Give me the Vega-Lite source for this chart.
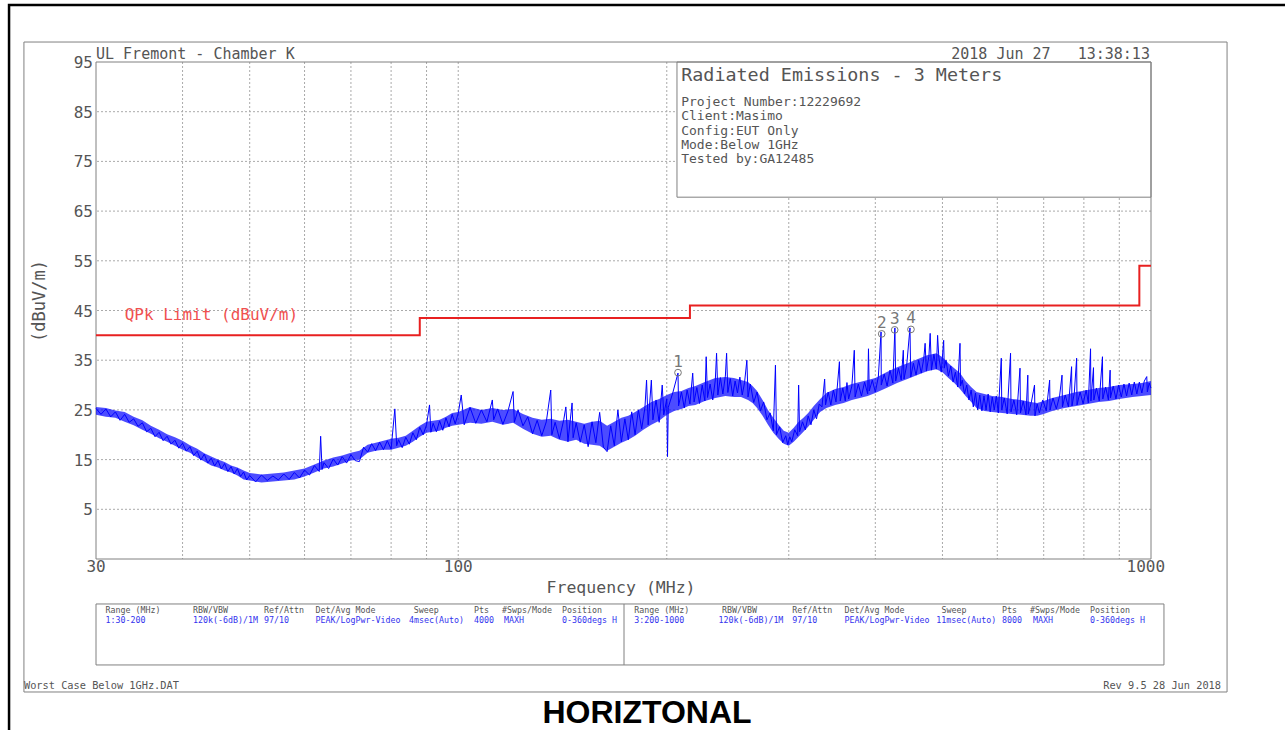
{
"$schema":"https://vega.github.io/schema/vega-lite/v6.json",
"width":1055,"height":497,
"autosize":{"type":"none"},
"padding":{"left":96,"top":62,"right":134,"bottom":171},
"background":"white",
"config":{"view":{"stroke":null}},
"layer":[
{"data":{"values":[{"f":40},{"f":50},{"f":60},{"f":70},{"f":80},{"f":90},{"f":100},{"f":200},{"f":300},{"f":400},{"f":500},{"f":600},{"f":700},{"f":800},{"f":900}]},
 "mark":{"type":"rule","color":"#aaa","strokeDash":[2,2],"strokeWidth":1},
 "encoding":{"x":{"field":"f","type":"quantitative","scale":{"type":"log","domain":[30,1000],"nice":false},"axis":null}}},
{"data":{"values":[{"v":5},{"v":15},{"v":25},{"v":35},{"v":45},{"v":55},{"v":65},{"v":75},{"v":85}]},
 "mark":{"type":"rule","color":"#aaa","strokeDash":[2,2],"strokeWidth":1},
 "encoding":{"y":{"field":"v","type":"quantitative","scale":{"domain":[-5,95],"nice":false,"zero":false},"axis":null}}},
{"data":{"values":[{"f1":206.9,"f2":1000,"v1":67.8,"v2":95}]},
 "mark":{"type":"rect","fill":"white","stroke":"#808080","strokeWidth":1},
 "encoding":{"x":{"field":"f1","type":"quantitative","scale":{"type":"log","domain":[30,1000],"nice":false},"axis":null},"x2":{"field":"f2"},
  "y":{"field":"v1","type":"quantitative","scale":{"domain":[-5,95],"nice":false,"zero":false},"axis":null},"y2":{"field":"v2"}}},
{"data":{"values":[{"f1":30,"f2":1000,"v1":-5,"v2":95},{"f1":23.61,"f2":1287.6,"v1":-31.76,"v2":99.02},{"f1":30,"f2":1044,"v1":-26.32,"v2":-14.05}]},
 "mark":{"type":"rect","fillOpacity":0,"stroke":"#808080","strokeWidth":1},
 "encoding":{"x":{"field":"f1","type":"quantitative","scale":{"type":"log","domain":[30,1000],"nice":false},"axis":null},"x2":{"field":"f2"},
  "y":{"field":"v1","type":"quantitative","scale":{"domain":[-5,95],"nice":false,"zero":false},"axis":null},"y2":{"field":"v2"}}},
{"data":{"values":[{"f1":22.47,"f2":1641,"v1":-41.4,"v2":106.47}]},
 "mark":{"type":"rect","fillOpacity":0,"stroke":"#000","strokeWidth":2.5},
 "encoding":{"x":{"field":"f1","type":"quantitative","scale":{"type":"log","domain":[30,1000],"nice":false},"axis":null},"x2":{"field":"f2"},
  "y":{"field":"v1","type":"quantitative","scale":{"domain":[-5,95],"nice":false,"zero":false},"axis":null},"y2":{"field":"v2"}}},
{"data":{"values":[{"f":173.5,"v1":-26.32,"v2":-14.05}]},
 "mark":{"type":"rule","color":"#808080","strokeWidth":1},
 "encoding":{"x":{"field":"f","type":"quantitative","scale":{"type":"log","domain":[30,1000],"nice":false},"axis":null},
  "y":{"field":"v1","type":"quantitative","scale":{"domain":[-5,95],"nice":false,"zero":false},"axis":null},"y2":{"field":"v2"}}},
{"data":{"values":[{"f":30,"v":40},{"f":88,"v":43.5},{"f":216,"v":46},{"f":962,"v":54},{"f":1000,"v":54}]},
 "mark":{"type":"line","color":"#e82020","strokeWidth":2,"interpolate":"step-after"},
 "encoding":{"x":{"field":"f","type":"quantitative","scale":{"type":"log","domain":[30,1000],"nice":false},"axis":null},
  "y":{"field":"v","type":"quantitative","scale":{"domain":[-5,95],"nice":false,"zero":false},"axis":null}}},
{"data":{"values":[
{"f":30,"lo":24.0,"hi":25.6},{"f":31,"lo":23.6,"hi":25.4},{"f":32,"lo":23.4,"hi":24.9},{"f":33,"lo":22.6,"hi":24.6},{"f":34,"lo":21.9,"hi":23.6},{"f":35,"lo":21.0,"hi":22.9},{"f":36,"lo":20.2,"hi":21.8},{"f":37,"lo":19.3,"hi":21.0},{"f":38,"lo":18.6,"hi":20.1},{"f":39,"lo":17.8,"hi":19.5},{"f":40,"lo":17.0,"hi":18.8},{"f":41,"lo":16.4,"hi":17.9},{"f":42,"lo":15.4,"hi":17.2},{"f":43,"lo":14.6,"hi":16.3},{"f":44,"lo":13.8,"hi":15.6},{"f":45,"lo":13.4,"hi":15.0},{"f":46,"lo":12.8,"hi":14.5},{"f":47,"lo":12.4,"hi":13.8},{"f":48,"lo":11.8,"hi":13.4},{"f":49,"lo":11.0,"hi":12.8},{"f":50,"lo":10.8,"hi":12.3},{"f":52,"lo":10.4,"hi":12.0},{"f":54,"lo":10.6,"hi":12.2},{"f":56,"lo":10.8,"hi":12.4},{"f":58,"lo":11.0,"hi":12.8},{"f":60,"lo":11.6,"hi":13.2},{"f":62,"lo":12.4,"hi":14.0},{"f":64,"lo":13.2,"hi":14.8},{"f":66,"lo":13.6,"hi":15.4},{"f":68,"lo":14.2,"hi":15.8},{"f":70,"lo":14.8,"hi":16.4},{"f":72,"lo":15.0,"hi":16.8},{"f":74,"lo":16.4,"hi":18.0},{"f":76,"lo":16.8,"hi":18.4},{"f":78,"lo":17.0,"hi":18.8},{"f":80,"lo":17.0,"hi":19.2},{"f":82,"lo":17.4,"hi":19.4},{"f":84,"lo":17.8,"hi":19.8},{"f":86,"lo":18.6,"hi":20.8},{"f":88,"lo":19.6,"hi":21.8},{"f":90,"lo":20.4,"hi":22.6},{"f":92,"lo":20.6,"hi":22.8},{"f":94,"lo":20.8,"hi":23.0},{"f":96,"lo":21.4,"hi":23.6},{"f":98,"lo":21.8,"hi":24.4},{"f":100,"lo":22.0,"hi":24.6},{"f":104,"lo":22.4,"hi":25.6},{"f":108,"lo":22.2,"hi":25.0},{"f":112,"lo":22.6,"hi":25.4},{"f":116,"lo":22.0,"hi":25.0},{"f":120,"lo":22.4,"hi":25.2},{"f":124,"lo":21.2,"hi":24.2},{"f":128,"lo":20.2,"hi":23.4},{"f":132,"lo":19.6,"hi":23.0},{"f":136,"lo":19.8,"hi":23.2},{"f":140,"lo":19.0,"hi":22.8},{"f":144,"lo":18.6,"hi":23.0},{"f":148,"lo":19.0,"hi":22.6},{"f":152,"lo":18.2,"hi":22.2},{"f":156,"lo":18.0,"hi":22.6},{"f":160,"lo":17.8,"hi":22.8},{"f":164,"lo":16.8,"hi":21.8},{"f":168,"lo":17.6,"hi":22.6},{"f":172,"lo":18.4,"hi":23.4},{"f":176,"lo":19.0,"hi":23.8},{"f":180,"lo":19.8,"hi":24.6},{"f":185,"lo":21.0,"hi":25.6},{"f":190,"lo":22.0,"hi":26.6},{"f":195,"lo":22.8,"hi":27.2},{"f":200,"lo":24.0,"hi":28.0},{"f":205,"lo":24.8,"hi":28.6},{"f":210,"lo":25.2,"hi":28.8},{"f":215,"lo":25.8,"hi":29.4},{"f":220,"lo":26.0,"hi":29.8},{"f":227,"lo":26.8,"hi":30.6},{"f":235,"lo":27.4,"hi":31.4},{"f":243,"lo":27.8,"hi":31.6},{"f":250,"lo":27.6,"hi":31.4},{"f":256,"lo":27.6,"hi":31.0},{"f":262,"lo":27.0,"hi":30.6},{"f":266,"lo":26.4,"hi":29.8},{"f":270,"lo":25.4,"hi":28.8},{"f":275,"lo":23.8,"hi":27.0},{"f":280,"lo":22.0,"hi":25.0},{"f":285,"lo":20.4,"hi":23.4},{"f":290,"lo":19.2,"hi":22.0},{"f":295,"lo":18.2,"hi":20.8},{"f":300,"lo":17.8,"hi":20.4},{"f":305,"lo":18.6,"hi":21.4},{"f":310,"lo":19.6,"hi":22.6},{"f":315,"lo":20.6,"hi":23.4},{"f":320,"lo":21.6,"hi":24.4},{"f":326,"lo":23.0,"hi":25.8},{"f":333,"lo":24.6,"hi":27.2},{"f":340,"lo":25.4,"hi":28.4},{"f":350,"lo":26.0,"hi":29.2},{"f":360,"lo":26.4,"hi":29.6},{"f":370,"lo":27.0,"hi":30.2},{"f":380,"lo":27.4,"hi":30.6},{"f":390,"lo":27.8,"hi":31.0},{"f":400,"lo":28.4,"hi":31.4},{"f":415,"lo":29.4,"hi":32.6},{"f":430,"lo":30.4,"hi":33.6},{"f":445,"lo":31.2,"hi":34.4},{"f":460,"lo":32.0,"hi":35.2},{"f":475,"lo":32.8,"hi":36.0},{"f":490,"lo":33.2,"hi":36.4},{"f":500,"lo":32.6,"hi":35.6},{"f":510,"lo":31.4,"hi":34.4},{"f":520,"lo":30.4,"hi":33.4},{"f":530,"lo":29.2,"hi":32.4},{"f":540,"lo":27.8,"hi":30.8},{"f":550,"lo":26.6,"hi":29.6},{"f":560,"lo":25.4,"hi":28.6},{"f":575,"lo":24.8,"hi":28.2},{"f":590,"lo":24.6,"hi":27.8},{"f":610,"lo":24.4,"hi":27.6},{"f":630,"lo":24.2,"hi":27.2},{"f":650,"lo":24.0,"hi":27.0},{"f":670,"lo":23.8,"hi":26.6},{"f":685,"lo":23.8,"hi":26.4},{"f":700,"lo":24.2,"hi":26.8},{"f":720,"lo":24.8,"hi":27.4},{"f":750,"lo":25.4,"hi":28.0},{"f":780,"lo":25.8,"hi":28.6},{"f":810,"lo":26.2,"hi":29.0},{"f":840,"lo":26.6,"hi":29.4},{"f":870,"lo":26.8,"hi":29.6},{"f":900,"lo":27.2,"hi":30.0},{"f":940,"lo":27.6,"hi":30.2},{"f":970,"lo":27.8,"hi":30.4},{"f":1000,"lo":28.0,"hi":30.8}
]},
 "mark":{"type":"area","color":"#0000ff","fillOpacity":0.7},
 "encoding":{"x":{"field":"f","type":"quantitative","scale":{"type":"log","domain":[30,1000],"nice":false},"axis":null},
  "y":{"field":"lo","type":"quantitative","scale":{"domain":[-5,95],"nice":false,"zero":false},"axis":null},"y2":{"field":"hi"}}},
{"data":{"values":[
{"f":30,"v":25.3},{"f":30.5,"v":24.1},{"f":31,"v":25.2},{"f":31.5,"v":23.6},{"f":32,"v":24.6},{"f":32.5,"v":22.9},{"f":33,"v":24.1},{"f":33.5,"v":22.5},{"f":34,"v":23.2},{"f":34.5,"v":21.7},{"f":35,"v":22.4},{"f":35.5,"v":20.6},{"f":36,"v":21.3},{"f":36.5,"v":19.6},{"f":37,"v":20.5},{"f":37.5,"v":18.8},{"f":38,"v":19.7},{"f":38.5,"v":18.1},{"f":39,"v":18.9},{"f":39.5,"v":17.3},{"f":40,"v":18.3},{"f":40.5,"v":16.7},{"f":41,"v":17.6},{"f":41.5,"v":15.8},{"f":42,"v":16.7},{"f":42.5,"v":14.9},{"f":43,"v":16.1},{"f":43.5,"v":14.3},{"f":44,"v":15.3},{"f":44.5,"v":13.7},{"f":45,"v":14.8},{"f":45.5,"v":13.1},{"f":46,"v":14.2},{"f":46.5,"v":12.6},{"f":47,"v":13.6},{"f":47.5,"v":12.1},{"f":48,"v":13.2},{"f":48.5,"v":11.6},{"f":49,"v":12.5},{"f":49.5,"v":10.9},{"f":50,"v":11.8},
{"f":51,"v":10.5},{"f":52,"v":11.9},{"f":53,"v":10.8},{"f":54,"v":11.7},{"f":55,"v":10.9},{"f":56,"v":12.1},{"f":57,"v":11.0},{"f":58,"v":12.4},{"f":59,"v":11.3},{"f":60,"v":12.9},{"f":61,"v":11.9},{"f":62,"v":13.8},{"f":63,"v":12.6},{"f":63.3,"v":19.7},{"f":63.6,"v":13.0},{"f":64,"v":14.4},{"f":65,"v":13.2},{"f":66,"v":15.1},{"f":67,"v":13.9},{"f":68,"v":15.6},{"f":69,"v":14.3},{"f":70,"v":16.0},{"f":71,"v":14.8},{"f":72,"v":14.6},{"f":73,"v":17.5},{"f":74,"v":16.5},{"f":75,"v":18.2},{"f":76,"v":16.8},{"f":77,"v":18.5},{"f":78,"v":17.0},{"f":79,"v":18.8},{"f":80,"v":17.1},{"f":81,"v":25.2},{"f":81.5,"v":17.8},{"f":82,"v":19.0},{"f":83,"v":17.4},{"f":84,"v":19.5},{"f":85,"v":18.1},{"f":86,"v":20.4},{"f":87,"v":19.0},{"f":88,"v":21.5},{"f":89,"v":20.0},{"f":90,"v":22.0},{"f":90.9,"v":26.0},{"f":91.3,"v":20.5},{"f":92,"v":22.3},{"f":93,"v":20.6},{"f":94,"v":22.8},{"f":95,"v":20.9},{"f":96,"v":23.4},{"f":97,"v":21.6},{"f":98,"v":24.1},{"f":99,"v":22.2},{"f":100,"v":24.3},
{"f":101,"v":28.0},{"f":102,"v":22.0},{"f":104,"v":25.5},{"f":106,"v":22.3},{"f":108,"v":25.0},{"f":110,"v":22.6},{"f":112,"v":27.0},{"f":112.5,"v":23.0},{"f":114,"v":25.2},{"f":116,"v":22.1},{"f":118,"v":24.8},{"f":120,"v":28.7},{"f":120.5,"v":22.5},{"f":122,"v":25.0},{"f":124,"v":21.8},{"f":126,"v":23.6},{"f":128,"v":20.2},{"f":130,"v":22.9},{"f":132,"v":19.8},{"f":134,"v":22.6},{"f":136,"v":29.0},{"f":136.5,"v":20.0},{"f":138,"v":22.5},{"f":140,"v":19.2},{"f":142,"v":23.0},{"f":143,"v":25.6},{"f":144,"v":18.6},{"f":146,"v":26.4},{"f":146.5,"v":19.4},{"f":148,"v":22.4},{"f":150,"v":18.5},{"f":152,"v":22.0},{"f":154,"v":17.6},{"f":156,"v":22.6},{"f":158,"v":18.4},{"f":160,"v":24.5},{"f":162,"v":17.5},{"f":164,"v":16.6},{"f":166,"v":21.8},{"f":168,"v":17.8},{"f":170,"v":25.0},{"f":172,"v":18.6},{"f":174,"v":23.2},{"f":176,"v":19.0},{"f":178,"v":24.6},{"f":180,"v":20.0},{"f":182,"v":25.0},{"f":184,"v":21.2},{"f":186,"v":25.5},{"f":187,"v":31.0},{"f":188,"v":22.0},{"f":190,"v":31.0},{"f":191,"v":23.0},{"f":193,"v":27.0},{"f":195,"v":22.5},{"f":197,"v":30.0},{"f":198,"v":24.0},{"f":200,"v":27.2},
{"f":200.5,"v":15.6},{"f":201,"v":25.5},{"f":204,"v":28.4},{"f":207.6,"v":32.4},{"f":208,"v":25.8},{"f":210,"v":28.6},{"f":212,"v":25.4},{"f":214,"v":29.0},{"f":216,"v":26.2},{"f":218,"v":32.4},{"f":219,"v":26.6},{"f":221,"v":29.5},{"f":223,"v":26.3},{"f":225,"v":30.0},{"f":227,"v":26.8},{"f":228,"v":35.7},{"f":229,"v":27.5},{"f":231,"v":30.2},{"f":233,"v":27.0},{"f":235,"v":31.0},{"f":236,"v":36.4},{"f":237,"v":28.0},{"f":239,"v":31.5},{"f":241,"v":28.2},{"f":243,"v":31.8},{"f":244,"v":36.4},{"f":245,"v":28.5},{"f":247,"v":31.3},{"f":249,"v":27.8},{"f":251,"v":30.8},{"f":253,"v":28.4},{"f":255,"v":31.6},{"f":257,"v":28.0},{"f":259,"v":30.5},{"f":261,"v":35.0},{"f":262,"v":27.6},{"f":264,"v":30.2},{"f":267,"v":26.5},{"f":270,"v":28.6},{"f":273,"v":24.8},{"f":276,"v":26.6},{"f":279,"v":23.0},{"f":282,"v":24.4},{"f":285,"v":20.8},{"f":287,"v":34.0},{"f":288,"v":20.0},{"f":291,"v":21.6},{"f":294,"v":18.4},{"f":297,"v":19.8},{"f":299,"v":18.0},{"f":301,"v":19.6},{"f":303,"v":18.6},{"f":306,"v":21.0},{"f":309,"v":19.8},{"f":310,"v":30.0},{"f":311,"v":20.6},{"f":314,"v":22.6},{"f":317,"v":21.0},{"f":320,"v":23.8},{"f":323,"v":22.0},{"f":326,"v":25.0},{"f":329,"v":23.2},{"f":332,"v":26.2},{"f":335,"v":25.6},{"f":338,"v":31.2},{"f":339,"v":26.0},{"f":342,"v":28.6},{"f":345,"v":26.0},{"f":348,"v":29.0},{"f":351,"v":26.6},{"f":355,"v":34.7},{"f":356,"v":26.8},{"f":359,"v":29.4},{"f":362,"v":26.8},{"f":364,"v":30.5},{"f":366,"v":27.2},{"f":370,"v":29.8},{"f":373,"v":37.0},{"f":374,"v":27.6},{"f":378,"v":30.2},{"f":382,"v":27.8},{"f":386,"v":30.6},{"f":390,"v":28.2},{"f":391,"v":37.3},{"f":392,"v":28.8},{"f":396,"v":31.0},{"f":400,"v":28.6},
{"f":404,"v":31.6},{"f":407.7,"v":40.7},{"f":408,"v":30.0},{"f":412,"v":32.2},{"f":416,"v":29.8},{"f":420,"v":33.0},{"f":424,"v":30.4},{"f":426.9,"v":41.5},{"f":428,"v":30.8},{"f":432,"v":33.4},{"f":436,"v":31.0},{"f":439,"v":37.0},{"f":440,"v":31.2},{"f":444,"v":34.0},{"f":448.8,"v":41.5},{"f":450,"v":31.6},{"f":454,"v":34.4},{"f":458,"v":32.0},{"f":462,"v":35.0},{"f":466,"v":32.4},{"f":470,"v":35.4},{"f":472,"v":38.4},{"f":474,"v":32.8},{"f":478,"v":35.8},{"f":480,"v":40.4},{"f":482,"v":33.0},{"f":486,"v":36.2},{"f":490,"v":33.2},{"f":492,"v":40.0},{"f":494,"v":35.6},{"f":498,"v":32.6},{"f":502,"v":39.0},{"f":503,"v":33.4},{"f":506,"v":35.0},{"f":510,"v":31.8},{"f":514,"v":33.8},{"f":518,"v":30.6},{"f":522,"v":32.6},{"f":526,"v":29.6},{"f":530,"v":38.4},{"f":531,"v":29.8},{"f":534,"v":31.0},{"f":538,"v":28.2},{"f":542,"v":30.0},{"f":546,"v":27.0},{"f":550,"v":29.0},{"f":554,"v":25.6},{"f":558,"v":28.4},{"f":562,"v":25.0},{"f":566,"v":28.0},{"f":570,"v":24.8},{"f":574,"v":27.8},{"f":578,"v":25.0},{"f":582,"v":28.2},{"f":586,"v":24.6},{"f":590,"v":27.6},{"f":594,"v":25.0},{"f":598,"v":27.8},{"f":602,"v":24.4},{"f":608,"v":35.4},{"f":609,"v":25.0},{"f":614,"v":27.4},{"f":620,"v":24.2},{"f":627,"v":36.4},{"f":628,"v":24.6},{"f":634,"v":27.0},{"f":640,"v":24.0},{"f":647,"v":33.4},{"f":648,"v":24.4},{"f":654,"v":26.8},{"f":660,"v":24.0},{"f":664,"v":32.0},{"f":665,"v":24.2},{"f":672,"v":26.6},{"f":679,"v":30.0},{"f":680,"v":23.8},{"f":685,"v":26.2},{"f":690,"v":24.4},{"f":698,"v":27.0},{"f":706,"v":24.8},{"f":714,"v":31.0},{"f":715,"v":25.0},{"f":722,"v":27.4},{"f":730,"v":25.2},{"f":738,"v":27.8},{"f":744,"v":32.0},{"f":745,"v":25.6},{"f":752,"v":28.0},{"f":760,"v":25.6},{"f":768,"v":33.7},{"f":769,"v":25.8},{"f":775,"v":28.4},{"f":781,"v":35.4},{"f":782,"v":26.0},{"f":790,"v":28.6},{"f":798,"v":26.2},{"f":806,"v":29.0},{"f":812,"v":26.4},{"f":818,"v":37.3},{"f":819,"v":26.8},{"f":826,"v":33.5},{"f":827,"v":27.0},{"f":834,"v":29.4},{"f":842,"v":26.8},{"f":851,"v":35.7},{"f":852,"v":27.2},{"f":860,"v":29.6},{"f":868,"v":27.0},{"f":873,"v":33.0},{"f":874,"v":27.4},{"f":882,"v":29.8},{"f":890,"v":27.2},{"f":898,"v":30.0},{"f":906,"v":27.6},{"f":914,"v":30.2},{"f":922,"v":27.8},{"f":930,"v":30.4},{"f":938,"v":28.0},{"f":946,"v":30.6},{"f":954,"v":28.2},{"f":962,"v":30.6},{"f":970,"v":28.4},{"f":978,"v":30.8},{"f":986,"v":31.7},{"f":988,"v":28.6},{"f":994,"v":30.4},{"f":1000,"v":29.4}
]},
 "mark":{"type":"line","color":"#0000ff","strokeWidth":1},
 "encoding":{"x":{"field":"f","type":"quantitative","scale":{"type":"log","domain":[30,1000],"nice":false},"axis":null},
  "y":{"field":"v","type":"quantitative","scale":{"domain":[-5,95],"nice":false,"zero":false},"axis":null}}},
{"data":{"values":[{"n":"1","f":207.6,"v":32.5},{"n":"2","f":408.6,"v":40.3},{"n":"3","f":426.6,"v":41.1},{"n":"4","f":450.3,"v":41.2}]},
 "layer":[
  {"mark":{"type":"point","shape":"circle","size":45,"filled":false,"stroke":"#777","strokeWidth":1,"opacity":1}},
  {"mark":{"type":"text","font":"DejaVu Sans Mono","fontSize":16,"color":"#777","align":"center","baseline":"alphabetic","dy":-6},"encoding":{"text":{"field":"n"}}}
 ],
 "encoding":{"x":{"field":"f","type":"quantitative","scale":{"type":"log","domain":[30,1000],"nice":false},"axis":null},
  "y":{"field":"v","type":"quantitative","scale":{"domain":[-5,95],"nice":false,"zero":false},"axis":null}}},
{"data":{"values":[{"v":95,"t":"95"},{"v":85,"t":"85"},{"v":75,"t":"75"},{"v":65,"t":"65"},{"v":55,"t":"55"},{"v":45,"t":"45"},{"v":35,"t":"35"},{"v":25,"t":"25"},{"v":15,"t":"15"},{"v":5,"t":"5"}]},
 "mark":{"type":"text","font":"DejaVu Sans Mono","fontSize":16,"color":"#555","align":"right","baseline":"alphabetic","dx":-3,"dy":6},
 "encoding":{"x":{"datum":30,"type":"quantitative","scale":{"type":"log","domain":[30,1000],"nice":false},"axis":null},
  "y":{"field":"v","type":"quantitative","scale":{"domain":[-5,95],"nice":false,"zero":false},"axis":null},"text":{"field":"t"}}},
{"data":{"values":[{"f":30,"t":"30"},{"f":100,"t":"100"},{"f":983,"t":"1000"}]},
 "mark":{"type":"text","font":"DejaVu Sans Mono","fontSize":16,"color":"#555","align":"center","baseline":"alphabetic","dy":13},
 "encoding":{"x":{"field":"f","type":"quantitative","scale":{"type":"log","domain":[30,1000],"nice":false},"axis":null},
  "y":{"datum":-5,"type":"quantitative","scale":{"domain":[-5,95],"nice":false,"zero":false},"axis":null},"text":{"field":"t"}}},
{"data":{"values":[{"f":171.8,"v":-11.84,"t":"Frequency (MHz)"}]},
 "mark":{"type":"text","font":"DejaVu Sans Mono","fontSize":16.5,"color":"#555","align":"center","baseline":"alphabetic"},
 "encoding":{"x":{"field":"f","type":"quantitative","scale":{"type":"log","domain":[30,1000],"nice":false},"axis":null},
  "y":{"field":"v","type":"quantitative","scale":{"domain":[-5,95],"nice":false,"zero":false},"axis":null},"text":{"field":"t"}}},
{"data":{"values":[{"f":30,"v":95.6,"t":"UL Fremont - Chamber K"}]},
 "mark":{"type":"text","font":"DejaVu Sans Mono","fontSize":15,"color":"#555","align":"left","baseline":"alphabetic"},
 "encoding":{"x":{"field":"f","type":"quantitative","scale":{"type":"log","domain":[30,1000],"nice":false},"axis":null},
  "y":{"field":"v","type":"quantitative","scale":{"domain":[-5,95],"nice":false,"zero":false},"axis":null},"text":{"field":"t"}}},
{"data":{"values":[{"f":996.5,"v":95.6,"t":"2018 Jun 27\u00a0\u00a0\u00a013:38:13"}]},
 "mark":{"type":"text","font":"DejaVu Sans Mono","fontSize":15,"color":"#555","align":"right","baseline":"alphabetic"},
 "encoding":{"x":{"field":"f","type":"quantitative","scale":{"type":"log","domain":[30,1000],"nice":false},"axis":null},
  "y":{"field":"v","type":"quantitative","scale":{"domain":[-5,95],"nice":false,"zero":false},"axis":null},"text":{"field":"t"}}},
{"data":{"values":[{"f":209.8,"v":91.24,"t":"Radiated Emissions - 3 Meters"}]},
 "mark":{"type":"text","font":"DejaVu Sans Mono","fontSize":18.4,"color":"#555","align":"left","baseline":"alphabetic"},
 "encoding":{"x":{"field":"f","type":"quantitative","scale":{"type":"log","domain":[30,1000],"nice":false},"axis":null},
  "y":{"field":"v","type":"quantitative","scale":{"domain":[-5,95],"nice":false,"zero":false},"axis":null},"text":{"field":"t"}}},
{"data":{"values":[{"f":209.8,"v":86.15,"t":"Project Number:12229692"},{"f":209.8,"v":83.27,"t":"Client:Masimo"},{"f":209.8,"v":80.40,"t":"Config:EUT Only"},{"f":209.8,"v":77.52,"t":"Mode:Below 1GHz"},{"f":209.8,"v":74.64,"t":"Tested by:GA12485"}]},
 "mark":{"type":"text","font":"DejaVu Sans Mono","fontSize":13,"color":"#555","align":"left","baseline":"alphabetic"},
 "encoding":{"x":{"field":"f","type":"quantitative","scale":{"type":"log","domain":[30,1000],"nice":false},"axis":null},
  "y":{"field":"v","type":"quantitative","scale":{"domain":[-5,95],"nice":false,"zero":false},"axis":null},"text":{"field":"t"}}},
{"data":{"values":[{"f":24.9,"v":46.9,"t":"(dBuV/m)"}]},
 "mark":{"type":"text","font":"DejaVu Sans Mono","fontSize":17,"color":"#555","align":"center","baseline":"middle","angle":270},
 "encoding":{"x":{"field":"f","type":"quantitative","scale":{"type":"log","domain":[30,1000],"nice":false},"axis":null},
  "y":{"field":"v","type":"quantitative","scale":{"domain":[-5,95],"nice":false,"zero":false},"axis":null},"text":{"field":"t"}}},
{"data":{"values":[{"f":33.0,"v":43.1,"t":"QPk Limit (dBuV/m)"}]},
 "mark":{"type":"text","font":"DejaVu Sans Mono","fontSize":16,"color":"#f05050","align":"left","baseline":"alphabetic"},
 "encoding":{"x":{"field":"f","type":"quantitative","scale":{"type":"log","domain":[30,1000],"nice":false},"axis":null},
  "y":{"field":"v","type":"quantitative","scale":{"domain":[-5,95],"nice":false,"zero":false},"axis":null},"text":{"field":"t"}}},
{"data":{"values":[{"f":30.96,"v":-15.96,"t":"Range (MHz)"},{"f":41.41,"v":-15.96,"t":"RBW/VBW"},{"f":52.43,"v":-15.96,"t":"Ref/Attn"},{"f":62.25,"v":-15.96,"t":"Det/Avg Mode"},{"f":86.25,"v":-15.96,"t":"Sweep"},{"f":105.39,"v":-15.96,"t":"Pts"},{"f":115.65,"v":-15.96,"t":"#Swps/Mode"},{"f":141.2,"v":-15.96,"t":"Position"},
 {"f":179.52,"v":-15.96,"t":"Range (MHz)"},{"f":240.24,"v":-15.96,"t":"RBW/VBW"},{"f":303.46,"v":-15.96,"t":"Ref/Attn"},{"f":361.02,"v":-15.96,"t":"Det/Avg Mode"},{"f":498.6,"v":-15.96,"t":"Sweep"},{"f":609.5,"v":-15.96,"t":"Pts"},{"f":668.9,"v":-15.96,"t":"#Swps/Mode"},{"f":816.6,"v":-15.96,"t":"Position"}]},
 "mark":{"type":"text","font":"DejaVu Sans Mono","fontSize":8.3,"color":"#555","align":"left","baseline":"alphabetic"},
 "encoding":{"x":{"field":"f","type":"quantitative","scale":{"type":"log","domain":[30,1000],"nice":false},"axis":null},
  "y":{"field":"v","type":"quantitative","scale":{"domain":[-5,95],"nice":false,"zero":false},"axis":null},"text":{"field":"t"}}},
{"data":{"values":[{"f":30.96,"v":-17.87,"t":"1:30-200"},{"f":41.41,"v":-17.87,"t":"120k(-6dB)/1M"},{"f":52.43,"v":-17.87,"t":"97/10"},{"f":62.25,"v":-17.87,"t":"PEAK/LogPwr-Video"},{"f":84.92,"v":-17.87,"t":"4msec(Auto)"},{"f":105.39,"v":-17.87,"t":"4000"},{"f":116.42,"v":-17.87,"t":"MAXH"},{"f":141.2,"v":-17.87,"t":"0-360degs H"},
 {"f":179.52,"v":-17.87,"t":"3:200-1000"},{"f":237.46,"v":-17.87,"t":"120k(-6dB)/1M"},{"f":303.46,"v":-17.87,"t":"97/10"},{"f":361.02,"v":-17.87,"t":"PEAK/LogPwr-Video"},{"f":489.8,"v":-17.87,"t":"11msec(Auto)"},{"f":609.5,"v":-17.87,"t":"8000"},{"f":675.6,"v":-17.87,"t":"MAXH"},{"f":816.6,"v":-17.87,"t":"0-360degs H"}]},
 "mark":{"type":"text","font":"DejaVu Sans Mono","fontSize":8.3,"color":"#3333ee","align":"left","baseline":"alphabetic"},
 "encoding":{"x":{"field":"f","type":"quantitative","scale":{"type":"log","domain":[30,1000],"nice":false},"axis":null},
  "y":{"field":"v","type":"quantitative","scale":{"domain":[-5,95],"nice":false,"zero":false},"axis":null},"text":{"field":"t"}}},
{"data":{"values":[{"f":23.61,"v":-31.15,"t":"Worst Case Below 1GHz.DAT"}]},
 "mark":{"type":"text","font":"DejaVu Sans Mono","fontSize":10.3,"color":"#555","align":"left","baseline":"alphabetic"},
 "encoding":{"x":{"field":"f","type":"quantitative","scale":{"type":"log","domain":[30,1000],"nice":false},"axis":null},
  "y":{"field":"v","type":"quantitative","scale":{"domain":[-5,95],"nice":false,"zero":false},"axis":null},"text":{"field":"t"}}},
{"data":{"values":[{"f":1262,"v":-31.15,"t":"Rev 9.5 28 Jun 2018"}]},
 "mark":{"type":"text","font":"DejaVu Sans Mono","fontSize":10.3,"color":"#555","align":"right","baseline":"alphabetic"},
 "encoding":{"x":{"field":"f","type":"quantitative","scale":{"type":"log","domain":[30,1000],"nice":false},"axis":null},
  "y":{"field":"v","type":"quantitative","scale":{"domain":[-5,95],"nice":false,"zero":false},"axis":null},"text":{"field":"t"}}},
{"data":{"values":[{"f":187.3,"v":-38.0,"t":"HORIZTONAL"}]},
 "mark":{"type":"text","font":"Liberation Sans","fontSize":32,"fontWeight":"bold","color":"#000","align":"center","baseline":"alphabetic"},
 "encoding":{"x":{"field":"f","type":"quantitative","scale":{"type":"log","domain":[30,1000],"nice":false},"axis":null},
  "y":{"field":"v","type":"quantitative","scale":{"domain":[-5,95],"nice":false,"zero":false},"axis":null},"text":{"field":"t"}}}
]
}
